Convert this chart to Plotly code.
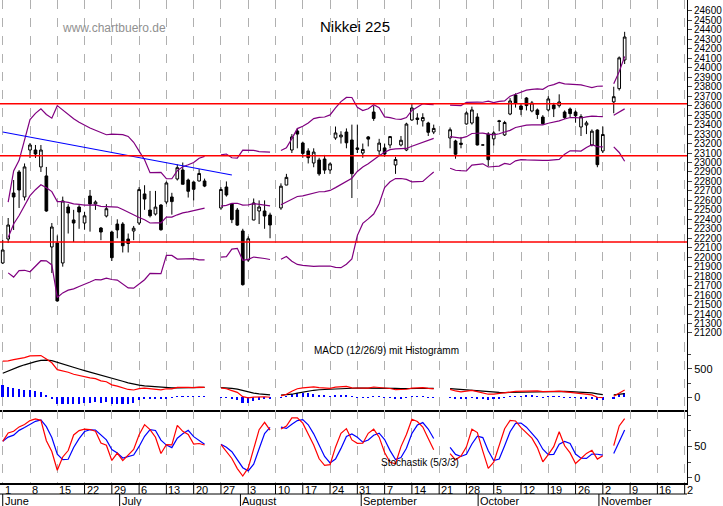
import numpy as np
import pandas as pd
import plotly.graph_objects as go
from plotly.subplots import make_subplots

holidays = ["2020-07-23", "2020-07-24", "2020-08-10", "2020-09-21", "2020-09-22", "2020-11-03"]
dates = [d for d in pd.bdate_range("2020-06-01", "2020-11-06") if d.strftime("%Y-%m-%d") not in holidays]

opens = [21939,22192,22678,22900,22636, 23132,23132,22953,22858,22108, 22150,21939,22530,22393,22530,
         22361,22646,22562,22308,22435, 22266,22350,22350,22192,22277, 22361,22668,22498,22456,22551,
         22583,22636,22826,22921,22815, 22794,22805,22805, 22520,22741,22562,22498,22277,
         21970,22393,22488,22488,22446, 22520,22762,23132,23333, 23206,23122,22995,23027,23037,
         22921,23259,23270,23322,23238, 23154,23100,23270,23533,23122, 23154,23185,22974,23185,23132,
         23449,23470,23440,23417,23322, 23259,23227,23190, 23407,23417,23480,23185,23301,
         23250,23440,23291,23512,23713, 23597,23681,23544,23555,23480, 23555,23607,23600,23533,23565,
         23533,23375,23396,23185,23343, 23122,23640,23780,24083]
closes = [22076,22340,22636,22710,22953, 23185,23090,23132,22488,22319, 21538,22594,22467,22361,22477,
          22437,22562,22583,22266,22512, 21995,22288,22121,22145,22306, 22714,22614,22438,22529,22290,
          22784,22587,22945,22770,22696, 22717,22884,22751, 22715,22657,22397,22339,21710,
          22195,22573,22530,22435,22340, 22750,22843,23270,23300, 23096,23051,23110,22880,22920,
          22985,23312,23290,23208,22882, 23139,23138,23247,23465,23205, 23089,23274,23032,23235,23406,
          23576,23454,23475,23319,23360, 23346,23087,23204, 23523,23555,23185,23185,23030,
          23312,23433,23422,23650,23629, 23560,23601,23629,23507,23410, 23671,23567,23639,23474,23516,
          23494,23485,23418,23331,22977, 23296,23695,24105,24325]
highs = [22182,22414,22815,22920,22990, 23206,23185,23185,22953,22361, 22230,22640,22560,22500,22550,
         22480,22710,22600,22319,22560, 22280,22400,22370,22250,22330, 22740,22760,22700,22700,22560,
         22800,22680,22980,23000,22830, 22800,22930,22830, 22740,22800,22570,22520,22300,
         22220,22620,22600,22600,22470, 22780,22880,23300,23360, 23220,23150,23150,23050,23080,
         23000,23380,23330,23360,23400, 23400,23200,23280,23600,23250, 23200,23280,23060,23280,23420,
         23620,23520,23520,23430,23400, 23370,23240,23270, 23540,23590,23520,23185,23320,
         23330,23450,23440,23680,23730, 23620,23690,23650,23570,23500, 23700,23630,23720,23550,23580,
         23550,23510,23440,23350,23350, 23380,23800,24120,24380]
lows = [21928,22150,22287,22520,22600, 23048,23048,22900,22480,21833, 21530,21900,22250,22160,22300,
        22290,22270,22500,22180,22420, 21960,22200,22050,22050,22180, 22340,22500,22420,22440,22280,
        22560,22450,22810,22770,22630, 22600,22800,22740, 22500,22640,22360,22330,21700,
        21950,22390,22350,22300,22200, 22500,22760,23100,23150, 23050,22990,22950,22860,22880,
        22880,23240,23200,23150,22625, 23100,23050,23170,23440,23080, 23060,23150,22880,23170,23120,
        23440,23400,23380,23280,23300, 23150,23040,23150, 23400,23400,23180,23185,22960,
        23180,23330,23280,23500,23580, 23500,23550,23530,23460,23400, 23540,23480,23580,23460,23480,
        23420,23280,23300,23170,22950, 23100,23520,23760,24040]

support_levels = [23620, 23070, 22160]
trend_dates = ["2020-06-01", "2020-07-29"]
trend_prices = [23322, 22868]
macd_init = {"ema12": 21600, "ema26": 20950, "signal": 370}

price_ticks = list(range(21200, 24601, 100))
day_labels = ["1","8","15","22","29","6","13","20","27","3","10","17","24","31","7","14","21","28","5","12","19","26","2","9","16","2"]
months = ["June", "July", "August", "September", "October", "November"]
month_starts = ["2020-06-01","2020-07-01","2020-08-01","2020-09-01","2020-10-01","2020-11-01"]

base = pd.Timestamp("2020-06-01")
def xpos(d):
    d = pd.Timestamp(d)
    dd = (d - base).days
    wd = d.weekday()
    if wd < 5:
        return (dd - wd) + 1.4 * wd
    return dd

x = [xpos(d) for d in dates]
c = pd.Series(closes, dtype=float)
h = pd.Series(highs, dtype=float)
l = pd.Series(lows, dtype=float)

brk = [False] + [bool(np.busday_count(dates[i-1].date(), dates[i].date()) > 1) for i in range(1, len(dates))]

def seg(vals):
    xs, ys = [], []
    for i, v in enumerate(vals):
        if brk[i]:
            xs.append(None); ys.append(None)
        xs.append(x[i]); ys.append(None if pd.isna(v) else float(v))
    return xs, ys

mid = c.rolling(20, min_periods=2).mean()
sd = c.rolling(20, min_periods=2).std()
up = mid + 2 * sd
lo = mid - 2 * sd

e12, e26, sg = macd_init["ema12"], macd_init["ema26"], macd_init["signal"]
macd, sigl = [], []
for v in closes:
    e12 = e12 + (v - e12) * 2 / 13
    e26 = e26 + (v - e26) * 2 / 27
    m = e12 - e26
    sg = sg + (m - sg) * 2 / 10
    macd.append(m); sigl.append(sg)
hist = [m - s for m, s in zip(macd, sigl)]

ll = l.rolling(5, min_periods=1).min()
hh = h.rolling(5, min_periods=1).max()
fk = 100 * (c - ll) / (hh - ll)
sk = fk.rolling(3, min_periods=1).mean()
sdv = sk.rolling(3, min_periods=1).mean()

fig = make_subplots(rows=3, cols=1, shared_xaxes=True, vertical_spacing=0,
                    row_heights=[343, 67, 73])

fig.add_trace(go.Candlestick(x=x, open=opens, high=highs, low=lows, close=closes,
                             increasing=dict(line=dict(color="black", width=1), fillcolor="white"),
                             decreasing=dict(line=dict(color="black", width=1), fillcolor="black"),
                             whiskerwidth=0, showlegend=False), row=1, col=1)
for ser in (up, mid, lo):
    xs, ys = seg(ser)
    fig.add_trace(go.Scatter(x=xs, y=ys, mode="lines", line=dict(color="#800080", width=1.2),
                             showlegend=False, connectgaps=False), row=1, col=1)
for lv in support_levels:
    fig.add_hline(y=lv, line=dict(color="red", width=1.5), row=1, col=1)
fig.add_trace(go.Scatter(x=[xpos(d) for d in trend_dates], y=trend_prices, mode="lines",
                         line=dict(color="blue", width=1.2), showlegend=False), row=1, col=1)

fig.add_trace(go.Bar(x=x, y=hist, marker=dict(color="blue", line=dict(width=0)), width=0.4,
                     showlegend=False), row=2, col=1)
xs, ys = seg(sigl)
fig.add_trace(go.Scatter(x=xs, y=ys, mode="lines", line=dict(color="black", width=1.2), showlegend=False), row=2, col=1)
xs, ys = seg(macd)
fig.add_trace(go.Scatter(x=xs, y=ys, mode="lines", line=dict(color="red", width=1.2), showlegend=False), row=2, col=1)

for lv in (80, 20):
    fig.add_hline(y=lv, line=dict(color="blue", width=1.2), row=3, col=1)
xs, ys = seg(sdv)
fig.add_trace(go.Scatter(x=xs, y=ys, mode="lines", line=dict(color="blue", width=1.2), showlegend=False), row=3, col=1)
xs, ys = seg(sk)
fig.add_trace(go.Scatter(x=xs, y=ys, mode="lines", line=dict(color="red", width=1.2), showlegend=False), row=3, col=1)

mondays = [7 * i for i in range(26)]
for r in (1, 2, 3):
    fig.update_xaxes(range=[-0.7, 175.6], tickvals=mondays, showticklabels=False, showgrid=True,
                     gridcolor="#b0b0b0", griddash="dash", gridwidth=1, zeroline=False,
                     rangeslider=dict(visible=False), row=r, col=1)
fig.update_xaxes(showline=True, linecolor="black", linewidth=1.5, row=3, col=1)
fig.update_xaxes(showline=True, linecolor="black", linewidth=1.5, row=2, col=1)

axfont = dict(family="Liberation Sans, Arial", size=11, color="black")
pfont = dict(family="Liberation Sans, Arial", size=10, color="black")
fig.update_yaxes(side="right", range=[21094, 24716], tickvals=price_ticks,
                 ticktext=[str(t) for t in price_ticks],
                 ticks="outside", ticklen=4, showgrid=False, showline=True, linecolor="black",
                 tickfont=pfont, zeroline=False, row=1, col=1)
fig.update_yaxes(side="right", range=[-232, 964], tickvals=[0, 500], ticktext=["0", "500"], ticks="outside", ticklen=4,
                 minor=dict(dtick=250, ticks="outside", ticklen=3), showgrid=False, showline=True,
                 linecolor="black", tickfont=axfont, zeroline=False, row=2, col=1)
fig.update_yaxes(side="right", range=[-8, 108], tickvals=[0, 50], ticktext=["0", "50"], ticks="outside", ticklen=4,
                 minor=dict(dtick=25, ticks="outside", ticklen=3), showgrid=False, showline=True,
                 linecolor="black", tickfont=axfont, zeroline=False, row=3, col=1)

txtfont = "Liberation Sans, Arial"
ann = [
    ("Nikkei 225", 355, 16, 15, "black"),
    ("www.chartbuero.de", 60, 19, 12, "#909090"),
    ("MACD (12/26/9) mit Histogramm", 386, 358, 10, "black"),
    ("Stochastik (5/3/3)", 420, 470, 10, "black"),
]
annotations = []
for t, ax, ay, fs, col in ann:
    annotations.append(dict(text=t, x=ax / 687, y=1 - ay / 483, xref="paper", yref="paper",
                            showarrow=False, font=dict(family=txtfont, size=fs, color=col)))
shapes = []
for i, lab in enumerate(day_labels):
    dx = 7 * i
    annotations.append(dict(text=lab, x=dx, xref="x3", y=0, yref="paper", xanchor="left", yanchor="top",
                            showarrow=False, font=axfont, xshift=0, yshift=1))
    shapes.append(dict(type="line", x0=dx, x1=dx, xref="x3", y0=0, y1=-11 / 483, yref="paper",
                       line=dict(color="black", width=1)))
for m, ms in zip(months, month_starts):
    mx = (pd.Timestamp(ms) - base).days
    annotations.append(dict(text=m, x=mx, xref="x3", y=-11 / 483, yref="paper", xanchor="left", yanchor="top",
                            showarrow=False, font=axfont, yshift=1))
    shapes.append(dict(type="line", x0=mx, x1=mx, xref="x3", y0=-11 / 483, y1=-23 / 483, yref="paper",
                       line=dict(color="black", width=1)))
shapes.append(dict(type="line", x0=0, x1=1, xref="paper", y0=-11 / 483, y1=-11 / 483, yref="paper",
                   line=dict(color="black", width=1)))

fig.update_layout(width=723, height=506, margin=dict(l=0, r=36, t=0, b=23),
                  paper_bgcolor="white", plot_bgcolor="white", bargap=0,
                  annotations=annotations, shapes=shapes, showlegend=False)
fig.write_html("out.html", config={"displayModeBar": False},
               post_script="document.body.style.margin='0';document.body.style.overflow='hidden';")
